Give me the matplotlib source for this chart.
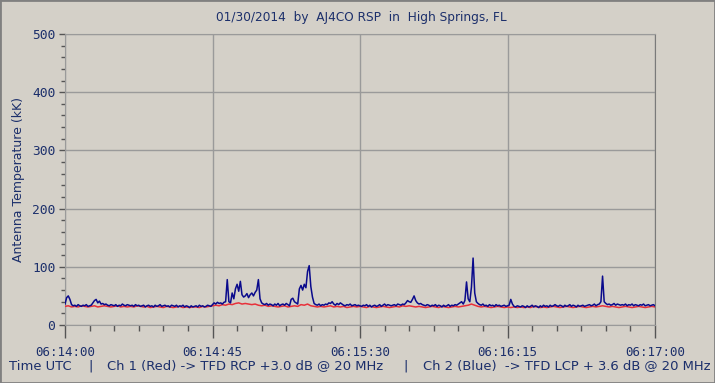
import matplotlib
matplotlib.use("Agg")
import matplotlib.pyplot as plt
import numpy as np
from matplotlib.ticker import MultipleLocator, FixedLocator

title = "01/30/2014  by  AJ4CO RSP  in  High Springs, FL"
ylabel = "Antenna Temperature (kK)"
bottom_parts = ["Time UTC", "|", "Ch 1 (Red) -> TFD RCP +3.0 dB @ 20 MHz", "|",
                "Ch 2 (Blue)  -> TFD LCP + 3.6 dB @ 20 MHz"]
xtick_labels = ["06:14:00", "06:14:45", "06:15:30", "06:16:15", "06:17:00"]
xtick_secs = [0, 45, 90, 135, 180]
ytick_vals = [0, 100, 200, 300, 400, 500]

# Ch 2 (Blue), one sample every 0.5 s from 06:14:00
blue = [
    36, 47, 50, 44, 35, 33, 34, 32, 35, 33, 32, 34, 33, 35, 32, 33, 34, 38, 42, 44,
    38, 41, 36, 37, 35, 36, 34, 33, 35, 34, 33, 35, 32, 34, 33, 36, 34, 33, 35, 34,
    33, 34, 32, 35, 33, 34, 32, 33, 34, 31, 33, 34, 32, 33, 31, 34, 32, 33, 35, 32,
    33, 34, 32, 33, 31, 34, 33, 32, 34, 31, 33, 32, 34, 31, 33, 32, 30, 33, 31, 32,
    33, 31, 34, 32, 33, 31, 32, 34, 33, 32, 35, 38, 36, 39, 37, 38, 36, 39, 40, 78,
    40, 38, 55, 45, 62, 70, 58, 75, 52, 48, 50, 54, 47, 52, 55, 50, 56, 60, 78, 45,
    38, 36, 35, 37, 34, 36, 35, 33, 36, 34, 37, 33, 35, 36, 34, 37, 35, 33, 44, 46,
    40, 38, 36, 62, 68, 60, 70, 64, 92, 102, 66, 48, 37, 35, 34, 36, 33, 35, 34, 36,
    35, 38, 37, 40, 36, 34, 37, 35, 38, 36, 34, 33, 35, 34, 36, 33, 34, 35, 33, 34,
    33, 32, 34, 33, 35, 32, 34, 31, 33, 34, 32, 33, 35, 32, 34, 36, 33, 35, 34, 33,
    34, 35, 33, 36, 35, 34, 36, 35, 38, 42, 40, 39, 44, 50, 42, 38, 36, 37, 35, 34,
    33, 35, 34, 32, 34, 33, 35, 32, 34, 33, 31, 34, 32, 33, 35, 32, 34, 33, 35, 34,
    36, 38, 40, 36, 42, 74, 45, 40, 65, 115, 55, 40, 37, 35, 34, 36, 33, 34, 32, 35,
    33, 34, 32, 35, 33, 34, 32, 33, 34, 32, 33, 34, 44, 36, 32, 31, 33, 32, 31, 33,
    32, 30, 33, 31, 32, 34, 31, 33, 32, 30, 33, 31, 34, 32, 33, 31, 34, 32, 33, 35,
    33, 32, 34, 33, 31, 34, 32, 33, 35, 32, 34, 33, 31, 34, 32, 33, 34, 32, 33, 34,
    35, 33, 34, 36, 33, 35, 36, 40, 84, 40, 37, 35, 36, 34, 35, 37, 34, 36, 35, 34,
    35, 34, 36, 33, 35, 34, 36, 33, 35, 34, 33, 35, 34, 36, 33, 34, 35, 33, 34, 35, 33,
]

# Ch 1 (Red), one sample every 1 s from 06:14:00
red = [
    32, 33, 31, 32, 31, 33, 32, 31, 32, 33, 31, 32, 33, 32, 31, 32, 33, 31, 32, 31,
    32, 31, 33, 32, 31, 32, 30, 31, 32, 31, 30, 32, 31, 30, 31, 32, 30, 31, 30, 31,
    31, 30, 32, 31, 32, 33, 34, 33, 35, 34, 36, 35, 37, 38, 36, 37, 36, 35, 36, 34,
    33, 34, 32, 33, 32, 31, 32, 33, 31, 32, 33, 32, 35, 34, 36, 33, 32, 31, 32, 31,
    32, 33, 31, 32, 31, 32, 30, 31, 32, 31, 32, 31, 30, 32, 31, 30, 31, 32, 31, 30,
    31, 32, 31, 33, 32, 33, 32, 31, 32, 31, 30, 31, 32, 31, 30, 32, 31, 30, 31, 32,
    31, 32, 33, 34, 36, 34, 32, 31, 32, 31, 30, 31, 32, 31, 30, 31, 30, 31, 30, 31,
    30, 31, 30, 32, 31, 30, 31, 30, 31, 32, 31, 30, 31, 32, 31, 30, 31, 32, 31, 30,
    31, 32, 31, 32, 33, 32, 31, 32, 31, 30, 31, 32, 31, 30, 31, 32, 31, 30, 31, 32, 31,
]

BG = "#d4d0c8"
TXT = "#1c2f6b"

W, H = 715, 383
fig = plt.figure(figsize=(W / 100, H / 100), dpi=100, facecolor=BG)
ax = fig.add_axes([65 / W, 1 - 325 / H, 590 / W, 291 / H], facecolor=BG)

t_blue = np.arange(len(blue)) * 0.5
t_red = np.arange(len(red)) * 1.0
ax.plot(t_red, red, color="#e8303a", lw=1.1, zorder=3)
ax.plot(t_blue, blue, color="#0a0a8c", lw=1.1, zorder=4)

ax.set_xlim(0, 180)
ax.set_ylim(0, 500)

ax.xaxis.set_major_locator(FixedLocator(xtick_secs))
ax.xaxis.set_minor_locator(MultipleLocator(7.5))
ax.set_xticklabels(xtick_labels, family="DejaVu Sans Mono", fontsize=9, color=TXT)
ax.yaxis.set_major_locator(FixedLocator(ytick_vals))
ax.yaxis.set_minor_locator(MultipleLocator(20))
ax.set_yticklabels([str(v) for v in ytick_vals], family="DejaVu Sans Mono", fontsize=9.3, color=TXT)

ax.tick_params(axis="x", which="major", direction="out", length=9, width=1, color="#555555", pad=6)
ax.tick_params(axis="x", which="minor", direction="out", length=4, width=1, color="#555555")
ax.tick_params(axis="y", which="major", direction="out", length=4, width=1, color="#555555", pad=3)
ax.tick_params(axis="y", which="minor", direction="out", length=3, width=1, color="#555555")

ax.grid(True, which="major", color="#9a9a9a", lw=1.0, zorder=1)
for s in ["left", "bottom", "top"]:
    ax.spines[s].set_color("#9a9a9a")
ax.spines["right"].set_color("#7a7a7a")

ax.set_ylabel(ylabel, fontsize=9, color=TXT)
ax.yaxis.set_label_coords(-40 / 590, 0.5)

fig.text(361 / W, 1 - 18 / H, title, ha="center", va="center", fontsize=8.7, color=TXT)

# bottom caption pieces placed at their pixel spans (left edge, right edge)
spans = [(9, 70), (88, 91), (107, 385), (403, 406), (423, 712)]
renderer = fig.canvas.get_renderer()
texts = []
for part, (x0, x1) in zip(bottom_parts, spans):
    tx = fig.text(x0 / W, 1 - 366 / H, part, ha="left", va="center", fontsize=9, color=TXT)
    texts.append(tx)
bb = texts[4].get_window_extent(renderer)
scale = (spans[4][1] - spans[4][0]) / bb.width
for tx in texts:
    tx.set_fontsize(9 * scale)

fig.patches.append(plt.Rectangle((0, 0), 1, 1, transform=fig.transFigure, fill=False,
                                 edgecolor="#808080", lw=2))

fig.savefig("out.png", dpi=100, facecolor=BG)
